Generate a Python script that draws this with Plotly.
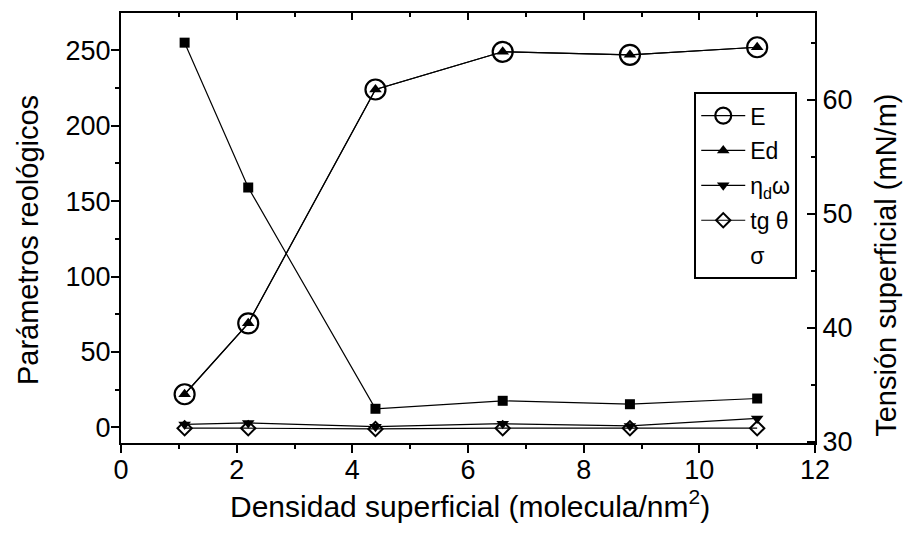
import plotly.graph_objects as go

x_vals = [1.1, 2.2, 4.4, 6.6, 8.8, 11.0]
E_vals = [22, 69, 224, 249, 247, 252]
Ed_vals = [22, 69, 224, 249, 247, 252]
eta_vals = [2, 3, 0.5, 2.5, 1, 6]
tg_vals = [-0.5, -0.5, -1, -0.5, -0.5, -0.5]
sigma_vals = [65.0, 52.3, 32.9, 33.6, 33.3, 33.8]

x_title = "Densidad superficial (molecula/nm<sup>2</sup>)"
y_title = "Parámetros reológicos"
y2_title = "Tensión superficial (mN/m)"

FONT = "Liberation Sans, Arial, sans-serif"
LW = 1.2

fig = go.Figure()
fig.add_trace(go.Scatter(x=x_vals, y=E_vals, name="E", mode="lines+markers",
                         line=dict(color="black", width=LW),
                         marker=dict(symbol="circle-open", size=20, color="black", line=dict(width=2.2)),
                         legendgroup="a"))
fig.add_trace(go.Scatter(x=x_vals, y=Ed_vals, name="Ed", mode="lines+markers",
                         line=dict(color="black", width=LW),
                         marker=dict(symbol="triangle-up", size=11, color="black"),
                         legendgroup="b"))
fig.add_trace(go.Scatter(x=x_vals, y=eta_vals, name="η<sub>d</sub>ω", mode="lines+markers",
                         line=dict(color="black", width=LW),
                         marker=dict(symbol="triangle-down", size=11, color="black"),
                         legendgroup="c"))
fig.add_trace(go.Scatter(x=x_vals, y=tg_vals, name="tg θ", mode="lines+markers",
                         line=dict(color="black", width=LW),
                         marker=dict(symbol="diamond-open", size=11, color="black", line=dict(width=2)),
                         legendgroup="d"))
fig.add_trace(go.Scatter(x=x_vals, y=sigma_vals, name="σ", mode="lines+markers",
                         xaxis="x2", yaxis="y2", showlegend=False,
                         line=dict(color="black", width=LW),
                         marker=dict(symbol="square", size=10, color="black")))
# legend entry for sigma without a visible symbol
fig.add_trace(go.Scatter(x=[None], y=[None], name="σ", mode="lines",
                         line=dict(color="rgba(0,0,0,0)", width=0), legendgroup="e"))

fig.update_layout(
    width=912, height=539,
    margin=dict(l=121, r=97, t=13, b=96),
    paper_bgcolor="white", plot_bgcolor="white",
    font=dict(family=FONT, size=22, color="black"),
    showlegend=True,
    legend=dict(x=0.826, y=0.816, xanchor="left", yanchor="top",
                bordercolor="black", borderwidth=2, bgcolor="white",
                font=dict(size=23), itemwidth=44, tracegroupgap=2),
    xaxis=dict(range=[0, 12], dtick=2, tick0=0, ticks="outside", ticklen=8, tickwidth=2,
               tickcolor="black", showline=True, linecolor="black", linewidth=2,
               showgrid=False, zeroline=False, ticklabelstandoff=-6,
               minor=dict(dtick=1, ticks="outside", ticklen=4, tickwidth=1.5, tickcolor="black"),
               tickfont=dict(size=27)),
    xaxis2=dict(range=[0, 12], overlaying="x", side="top", anchor="y", dtick=2, tick0=0,
                ticks="inside", ticklen=7, tickwidth=2, tickcolor="black",
                showline=True, linecolor="black", linewidth=2, showgrid=False, zeroline=False,
                showticklabels=False,
                minor=dict(dtick=1, ticks="inside", ticklen=4, tickwidth=1.5, tickcolor="black")),
    yaxis=dict(range=[-10.3, 274.7], dtick=50, tick0=0, ticks="outside", ticklen=8, tickwidth=2,
               tickcolor="black", showline=True, linecolor="black", linewidth=2,
               showgrid=False, zeroline=False, ticklabelstandoff=-5,
               minor=dict(dtick=25, ticks="outside", ticklen=4, tickwidth=1.5, tickcolor="black"),
               tickfont=dict(size=27)),
    yaxis2=dict(range=[29.9, 67.6], overlaying="y", side="right", anchor="x", dtick=10, tick0=30,
                ticks="inside", ticklen=8, tickwidth=2, tickcolor="black",
                showline=True, linecolor="black", linewidth=2, showgrid=False, zeroline=False,
                minor=dict(dtick=5, ticks="inside", ticklen=4, tickwidth=1.5, tickcolor="black"),
                tickfont=dict(size=27)),
)

fig.add_annotation(text=x_title, xref="paper", yref="paper", x=0.503, y=-0.142,
                   xanchor="center", yanchor="middle", showarrow=False, font=dict(size=30))
fig.add_annotation(text=y_title, xref="paper", yref="paper", x=-0.134, y=0.472,
                   xanchor="center", yanchor="middle", textangle=-90, showarrow=False,
                   font=dict(size=29))
fig.add_annotation(text=y2_title, xref="paper", yref="paper", x=1.102, y=0.414,
                   xanchor="center", yanchor="middle", textangle=-90, showarrow=False,
                   font=dict(size=29))

fig.write_html("out.html")
